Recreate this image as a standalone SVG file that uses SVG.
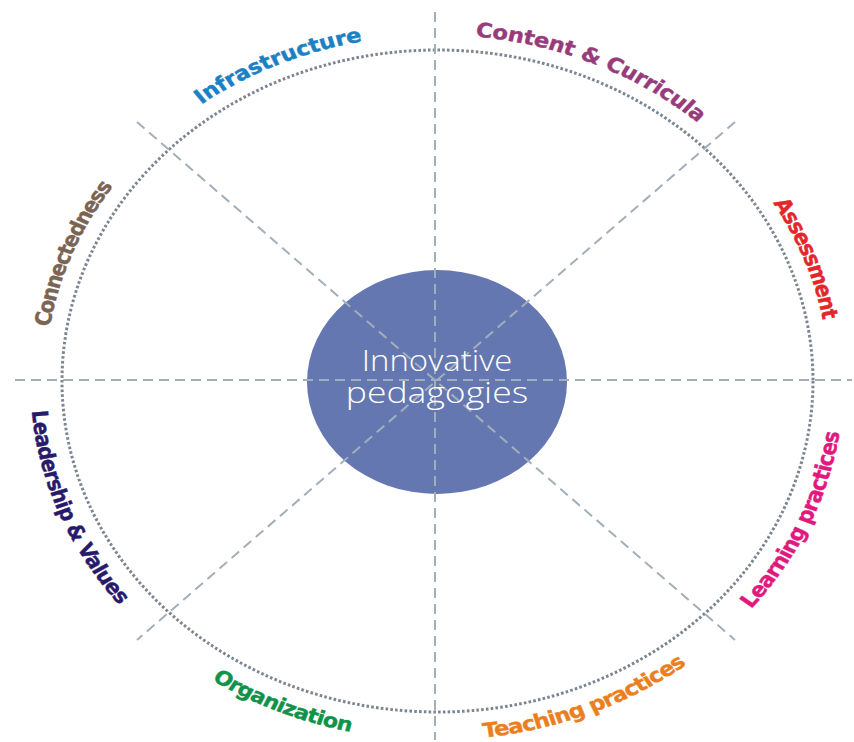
<svg xmlns="http://www.w3.org/2000/svg" width="854" height="742" viewBox="0 0 854 742">
<style>
.lbl{font-family:"DejaVu Sans",Verdana,sans-serif;font-weight:bold;stroke-width:0.4}
.dash{stroke:#a2afbb;stroke-width:2;stroke-dasharray:10 6;fill:none}
.ring{fill:none;stroke:#7c8691;stroke-width:3;stroke-dasharray:2.6 2.2}
.core{fill:#6577b1}
.coretxt{font-family:"Open Sans","DejaVu Sans",sans-serif;font-weight:300;fill:#ffffff;font-size:30px;text-anchor:middle}
</style>
<defs>
<path id="cw" d="M0,-346 A346,346 0 1 1 0,346 A346,346 0 1 1 0,-346"/>
<path id="ccw" d="M-310.9,-179.5 A357,357 0 1 0 310.9,179.5 A357,357 0 1 0 -310.9,-179.5"/>
</defs>
<rect width="854" height="742" fill="#ffffff"/>
<g id="ring">
<ellipse class="ring" cx="437.5" cy="381" rx="375.5" ry="331"/>
</g>
<g id="center-shape">
<ellipse class="core" cx="437" cy="382" rx="130" ry="112"/>
</g>
<g id="connectors">
<line class="dash" x1="435" y1="12" x2="435" y2="740"/>
<line class="dash" x1="15" y1="380" x2="852" y2="380"/>
<line class="dash" x1="137" y1="122" x2="735" y2="640"/>
<line class="dash" x1="735" y1="122" x2="137" y2="640"/>
</g>
<g transform="translate(437,381) scale(1.133,1)">
<g id="center">
<text class="coretxt" x="0" y="-10" textLength="133" lengthAdjust="spacingAndGlyphs">Innovative</text>
<text class="coretxt" x="0" y="22" textLength="161" lengthAdjust="spacingAndGlyphs">pedagogies</text>
</g>
<g id="infrastructure"><text class="lbl" font-size="20" fill="#1b80c4" stroke="#1b80c4"><textPath href="#cw" startOffset="1950" textLength="157" lengthAdjust="spacing">Infrastructure</textPath></text></g>
<g id="content-curricula"><text class="lbl" font-size="20" fill="#983b7b" stroke="#983b7b"><textPath href="#cw" startOffset="34" textLength="218" lengthAdjust="spacing">Content &amp; Curricula</textPath></text></g>
<g id="assessment"><text class="lbl" font-size="20" fill="#e4262b" stroke="#e4262b"><textPath href="#cw" startOffset="356" textLength="126" lengthAdjust="spacing">Assessment</textPath></text></g>
<g id="connectedness"><text class="lbl" font-size="19.5" fill="#7a6453" stroke="#7a6453"><textPath href="#cw" startOffset="1684" textLength="153" lengthAdjust="spacing">Connectedness</textPath></text></g>
<g id="leadership-values"><text class="lbl" font-size="19.5" fill="#281a6b" stroke="#281a6b"><textPath href="#ccw" startOffset="218" textLength="212" lengthAdjust="spacing">Leadership &amp; Values</textPath></text></g>
<g id="organization"><text class="lbl" font-size="19.5" fill="#109249" stroke="#109249"><textPath href="#ccw" startOffset="541" textLength="134" lengthAdjust="spacing">Organization</textPath></text></g>
<g id="teaching-practices"><text class="lbl" font-size="20" fill="#ea7f22" stroke="#ea7f22"><textPath href="#ccw" startOffset="793" textLength="196" lengthAdjust="spacing">Teaching practices</textPath></text></g>
<g id="learning-practices"><text class="lbl" font-size="20" fill="#e2187f" stroke="#e2187f"><textPath href="#ccw" startOffset="1068" textLength="196" lengthAdjust="spacing">Learning practices</textPath></text></g>
</g>
</svg>
